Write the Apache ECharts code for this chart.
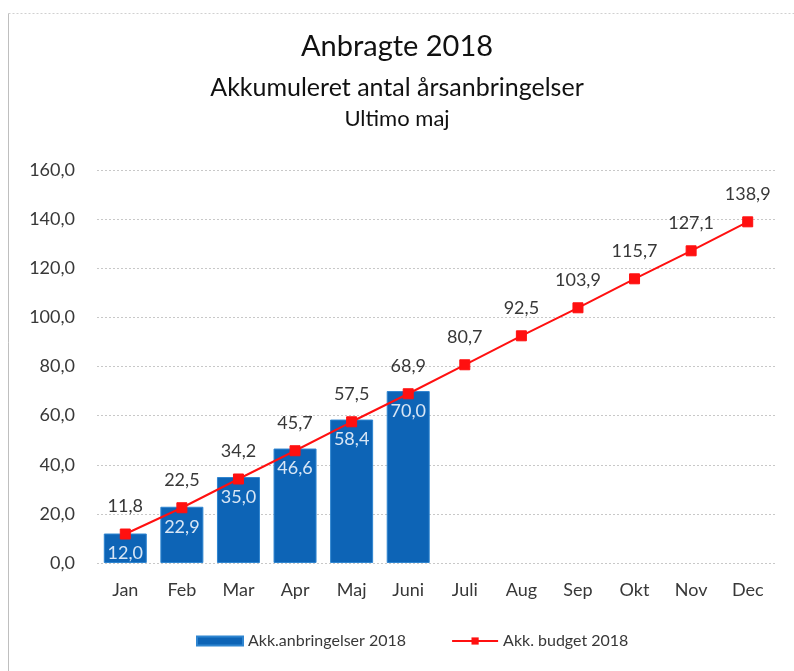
<!DOCTYPE html>
<html><head><meta charset="utf-8">
<script src="https://cdn.jsdelivr.net/npm/echarts@6/dist/echarts.min.js"></script>
<style>html,body{margin:0;padding:0;background:#fff}#c{width:794px;height:671px}</style>
</head><body><div id="c"></div>
<script>
const categories = ['Jan','Feb','Mar','Apr','Maj','Juni','Juli','Aug','Sep','Okt','Nov','Dec'];
const actual2018 = [12.0, 22.9, 35.0, 46.6, 58.4, 70.0];
const budget2018 = [11.8, 22.5, 34.2, 45.7, 57.5, 68.9, 80.7, 92.5, 103.9, 115.7, 127.1, 138.9];
const yTicks = {min: 0, max: 160, interval: 20};

const fmt = v => Number(v).toFixed(1).replace('.', ',');
const FONT = 'Lato';
const TXT = '#383838';
const TPAD = [5, 5, 5, 19];
const chart = echarts.init(document.getElementById('c'));
chart.setOption({
  backgroundColor: '#fff',
  animation: false,
  textStyle: {fontFamily: FONT},
  graphic: [{
    type: 'rect', shape: {x: 8.5, y: 13.5, width: 800, height: 700},
    style: {fill: 'none', stroke: '#d0d0d0', lineWidth: 1, lineDash: [2, 2]}, z: -1
  }, {
    type: 'line', shape: {x1: 8.5, y1: 13.5, x2: 8.5, y2: 680},
    style: {stroke: '#bfbfbf', lineWidth: 1}
  }],
  title: [
    {text: 'Anbragte 2018', left: 'center', top: 27, padding: TPAD, textStyle: {fontFamily: FONT, fontSize: 29, fontWeight: 'normal', color: '#111'}},
    {text: 'Akkumuleret antal årsanbringelser', left: 'center', top: 70, padding: TPAD, textStyle: {fontFamily: FONT, fontSize: 25, fontWeight: 'normal', color: '#111'}},
    {text: 'Ultimo maj', left: 'center', top: 103, padding: TPAD, textStyle: {fontFamily: FONT, fontSize: 22, fontWeight: 'normal', color: '#111'}}
  ],
  legend: {
    left: 191, top: 628, itemGap: 45,
    itemWidth: 46, itemHeight: 9,
    textStyle: {fontFamily: FONT, fontSize: 16, color: TXT},
    data: [
      {name: 'Akk.anbringelser 2018', icon: 'rect'},
      {name: 'Akk. budget 2018'}
    ]
  },
  grid: {left: 97, right: 18, top: 170, bottom: 108},
  xAxis: {
    type: 'category', data: categories,
    axisLine: {show: false}, axisTick: {show: false},
    axisLabel: {fontFamily: FONT, fontSize: 18, color: TXT, margin: 18}
  },
  yAxis: {
    type: 'value', min: yTicks.min, max: yTicks.max, interval: yTicks.interval,
    axisLine: {show: false}, axisTick: {show: false},
    axisLabel: {fontFamily: FONT, fontSize: 18, color: TXT, margin: 22, formatter: fmt},
    splitLine: {lineStyle: {color: '#c8c8c8', type: [2, 2], width: 1}}
  },
  series: [{
    name: 'Akk.anbringelser 2018', type: 'bar', data: actual2018,
    barWidth: '76%',
    itemStyle: {color: '#0d64b6', borderColor: '#2f85d0', borderWidth: 1},
    label: {show: true, position: 'insideTop', distance: 11, formatter: p => fmt(p.value),
      fontFamily: FONT, fontSize: 18, color: '#d8e6f5'}
  }, {
    name: 'Akk. budget 2018', type: 'line', data: budget2018,
    symbol: 'rect', symbolSize: 10,
    lineStyle: {color: '#ff1010', width: 2},
    itemStyle: {color: '#ff1010', borderColor: '#ff1010'},
    label: {show: true, position: 'top', distance: 13, formatter: p => fmt(p.value),
      fontFamily: FONT, fontSize: 18, color: TXT},
    z: 5
  }]
});
</script></body></html>
